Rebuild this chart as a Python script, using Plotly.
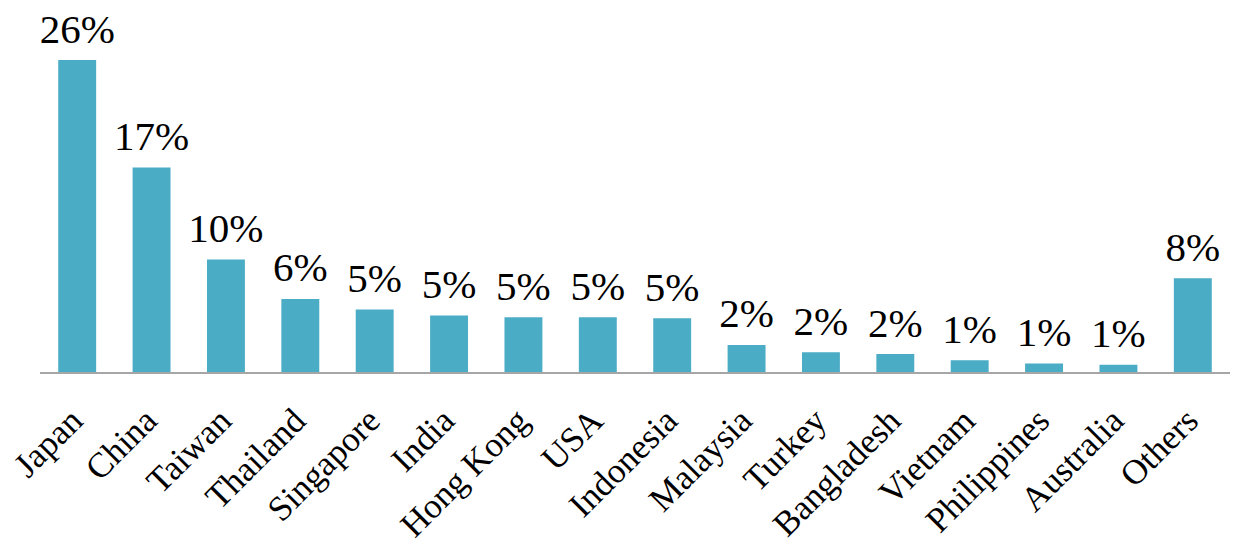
import plotly.graph_objects as go

countries = ["Japan", "China", "Taiwan", "Thailand", "Singapore", "India", "Hong Kong",
             "USA", "Indonesia", "Malaysia", "Turkey", "Bangladesh", "Vietnam",
             "Philippines", "Australia", "Others"]
shares = [26.45, 17.35, 9.55, 6.2, 5.3, 4.8, 4.65, 4.65, 4.55, 2.3, 1.67, 1.52, 1.0, 0.72, 0.62, 7.95]

BAR_COLOR = "#4BACC6"
FONT = "Liberation Serif"

fig = go.Figure()
fig.add_trace(go.Bar(
    x=countries, y=shares, marker=dict(color=BAR_COLOR, line=dict(width=0)),
    hoverinfo="skip", showlegend=False,
))
fig.add_trace(go.Scatter(
    x=countries, y=shares, mode="markers+text",
    marker=dict(size=10, opacity=0),
    texttemplate="%{y:.0f}%", textposition="top center",
    textfont=dict(family=FONT, size=41, color="#000000"),
    cliponaxis=False, hoverinfo="skip", showlegend=False,
))

fig.update_layout(
    width=1239, height=550,
    margin=dict(l=40, r=9, t=10, b=178, autoexpand=False),
    paper_bgcolor="white", plot_bgcolor="white",
    bargap=0.49,
    font=dict(family=FONT, color="#000000"),
)
fig.update_xaxes(
    range=[-0.5, len(countries) - 0.5],
    tickangle=-45, tickfont=dict(family=FONT, size=35, color="#000000"),
    ticklabelstandoff=12, ticklabelshift=-5,
    showline=True, linecolor="#A6A6A6", linewidth=2,
    showgrid=False, ticks="", ticklen=0, automargin=False,
)
fig.update_yaxes(
    range=[0, 30.7], visible=False, showgrid=False, zeroline=False, automargin=False,
)

fig.write_html("out.html",
               config={"displayModeBar": False},
               post_script="document.body.style.margin='0';document.body.style.overflow='hidden';")
